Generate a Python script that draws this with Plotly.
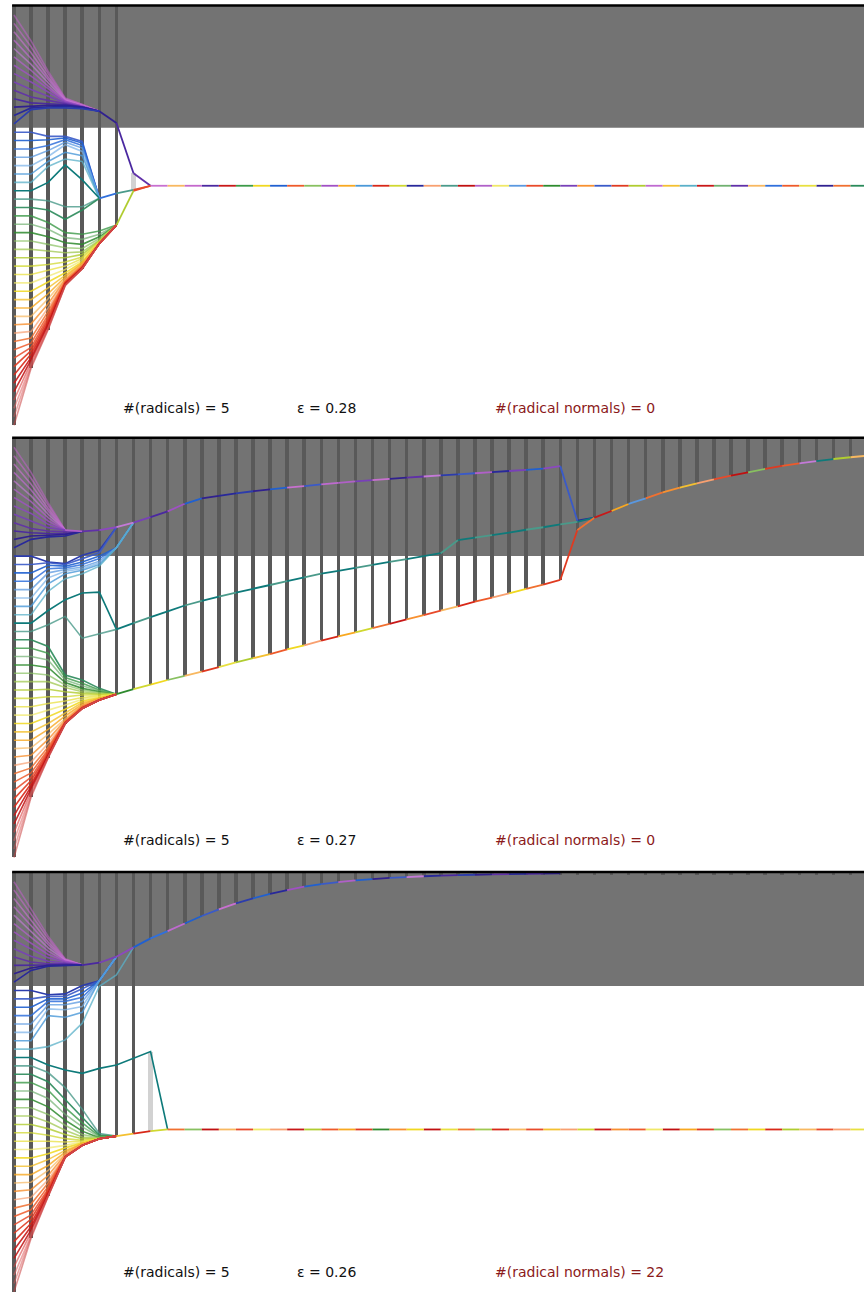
import plotly.graph_objects as go

# ---------------- colours of the 50 curves (top start -> bottom start) ----------------
curve_hex = ["#c060c8", "#c468cc", "#c870d0", "#bf6ad0", "#c47ad8", "#b060c8", "#a050c4", "#8c48c0",
             "#7840b8", "#6030a8", "#4a28a0", "#30208f", "#28289a", "#2c3cac", "#3a5ac8", "#2060d0",
             "#3070dc", "#5a98e0", "#78b0e8", "#4a98d8", "#5ab0c8", "#0e7a7a", "#4a9a8a", "#2a8a5a",
             "#3c9a48", "#70b070", "#2e8a2e", "#88c060", "#a0c850", "#b0cc30", "#d0d830", "#e8e040",
             "#f0e868", "#f0d820", "#f4c030", "#f8a820", "#f8b860", "#f89030", "#f8a070", "#f07030",
             "#ee5a2a", "#e84a2a", "#e03a20", "#d82818", "#c81818", "#c01010", "#d84040", "#e06060",
             "#d85050", "#c84040"]
curve_alpha = [0.55, 0.6, 0.65, 0.7, 0.65, 0.75, 0.8, 0.85, 0.9, 0.9, 0.95, 1, 1, 1, 0.9, 0.9,
               0.85, 0.75, 0.7, 0.8, 0.75, 1, 0.8, 0.9, 0.8, 0.7, 0.85, 0.7, 0.75, 0.8, 0.75, 0.75,
               0.7, 0.85, 0.8, 0.8, 0.7, 0.8, 0.7, 0.85, 0.85, 0.85, 0.9, 0.9, 0.9, 0.85, 0.6, 0.55,
               0.5, 0.55]

# ================= PANEL 1 (eps = 0.28) =================
p1_labels = ["#(radicals) = 5", "ε = 0.28", "#(radical normals) = 0"]
p1_band_bottom = 13.46
p1_prefix = [
    [0, 3.1, 6.7, 9.9, 10.7, 11.5], [1, 3.8, 7.0, 10.0, 10.7, 11.5], [2, 4.5, 7.4, 10.1, 10.8, 11.5],
    [3, 5.2, 7.7, 10.1, 10.8, 11.5], [4, 5.9, 8.1, 10.2, 10.8, 11.5], [5, 6.6, 8.5, 10.3, 10.9, 11.5],
    [6, 7.3, 8.8, 10.3, 10.9, 11.5], [7, 8.0, 9.2, 10.4, 10.9, 11.5], [8, 8.9, 9.7, 10.5, 11.0, 11.5],
    [9, 9.8, 10.2, 10.6, 11.0, 11.5], [10, 10.5, 10.6, 10.7, 11.0, 11.5], [11, 10.9, 10.8, 10.8, 11.0, 11.5],
    [12, 11.1, 11.0, 10.9, 11.1, 11.5], [13, 11.3, 11.1, 11.1, 11.2, 11.5],
    [14, 14.0, 14.5, 14.5, 15.1, 21.9], [15, 15.0, 14.9, 14.7, 15.3, 21.9], [16, 16.0, 15.6, 14.9, 15.6, 21.9],
    [17, 17.0, 16.2, 15.2, 15.9, 21.9], [18, 18.0, 16.9, 15.5, 16.3, 21.9], [19, 19.0, 17.5, 16.4, 16.8, 21.9],
    [20, 20.0, 18.1, 17.2, 17.5, 21.9], [21, 21.0, 20.0, 17.9, 19.7, 21.9], [22, 22.0, 22.2, 22.9, 22.9, 21.9],
    [23, 23.0, 23.3, 24.4, 23.3, 21.9],
    [24, 24.0, 24.8, 26.0, 26.2, 25.8, 25.1], [25, 25.0, 25.6, 26.6, 26.8, 26.2, 25.1],
    [26, 26.0, 26.5, 27.2, 27.4, 26.5, 25.1], [27, 27.0, 27.4, 27.8, 27.9, 26.7, 25.1],
    [28, 28.0, 28.2, 28.4, 28.3, 26.9, 25.1], [29, 29.0, 29.0, 29.0, 28.6, 27.0, 25.1],
    [30, 30.0, 29.8, 29.5, 28.9, 27.1, 25.1], [31, 31.0, 30.5, 30.0, 29.1, 27.1, 25.1],
    [32, 32.0, 31.2, 30.4, 29.3, 27.2, 25.1], [33, 33.0, 31.9, 30.8, 29.5, 27.2, 25.1],
    [34, 34.0, 32.6, 31.1, 29.6, 27.2, 25.1], [35, 35.0, 33.3, 31.3, 29.7, 27.2, 25.1],
    [36, 36.0, 33.9, 31.5, 29.8, 27.2, 25.1], [37, 36.9, 34.5, 31.6, 29.9, 27.3, 25.1],
    [38, 37.8, 35.0, 31.7, 30.0, 27.3, 25.1], [39, 38.6, 35.4, 31.8, 30.0, 27.3, 25.1],
    [40, 39.2, 35.8, 31.9, 30.1, 27.3, 25.1], [41, 39.7, 36.1, 32.0, 30.1, 27.3, 25.1],
    [42, 40.1, 36.4, 32.0, 30.2, 27.3, 25.1], [43, 40.5, 36.7, 32.1, 30.2, 27.3, 25.1],
    [44, 40.9, 36.9, 32.1, 30.2, 27.3, 25.1], [45, 41.2, 37.1, 32.2, 30.3, 27.3, 25.1],
    [46, 41.5, 37.3, 32.2, 30.3, 27.3, 25.1], [47, 41.8, 37.4, 32.3, 30.3, 27.3, 25.1],
    [48, 42.0, 37.5, 32.3, 30.3, 27.3, 25.1], [49, 42.2, 37.6, 32.3, 30.3, 27.3, 25.1],
]
p1_upper_start, p1_upper_vals, p1_upper_seg = 5, [11.5, 12.9, 18.9, 20.4], [11, 10, 9]
p1_mid_start, p1_mid_vals, p1_mid_seg = 5, [21.9, 21.3, 20.9, 20.4], [16, 22, 41]
p1_low_start, p1_low_vals, p1_low_seg = 6, [25.1, 21.0, 20.4], [29, 41]
p1_trunk_start = 8
p1_trunk_vals = [20.4, 20.4, 20.4, 20.4, 20.4, 20.4, 20.4, 20.4, 20.4, 20.4, 20.4, 20.4, 20.4, 20.4, 20.4,
                 20.4, 20.4, 20.4, 20.4, 20.4, 20.4, 20.4, 20.4, 20.4, 20.4, 20.4, 20.4, 20.4, 20.4, 20.4,
                 20.4, 20.4, 20.4, 20.4, 20.4, 20.4, 20.4, 20.4, 20.4, 20.4, 20.4, 20.4, 20.4]
p1_trunk_seg = [2, 36, 1, 10, 44, 24, 33, 15, 40, 27, 6, 35, 19, 43, 30, 12, 38, 22, 45, 5, 32,
                17, 41, 26, 8, 37, 14, 42, 29, 3, 34, 20, 44, 25, 9, 36, 16, 40, 31, 11, 39, 23]
p1_dark_low_cols = [0, 1, 2, 3, 4, 5, 6]
p1_dark_up_cols, p1_dark_up_bottom = [], []
p1_light_cols, p1_light_top, p1_light_bottom = [7], [18.9], [21.0]

# ================= PANEL 2 (eps = 0.27) =================
p2_labels = ["#(radicals) = 5", "ε = 0.27", "#(radical normals) = 0"]
p2_band_bottom = 12.99
p2_prefix = [
    [0, 3.0, 6.6, 9.9], [1, 3.7, 6.9, 9.9], [2, 4.4, 7.3, 9.9], [3, 5.1, 7.6, 9.9], [4, 5.8, 8.0, 9.9],
    [5, 6.5, 8.4, 9.9], [6, 7.2, 8.8, 9.9], [7, 7.9, 9.2, 9.9], [8, 8.8, 9.6, 9.9],
    [9, 9.7, 10.0, 10.1, 10.05], [10, 10.2, 10.3, 10.3, 10.05], [11, 10.6, 10.5, 10.4, 10.05],
    [12, 11.0, 10.7, 10.6, 10.05],
    [13, 13.0, 13.7, 13.9, 12.9, 12.3, 9.55], [14, 14.0, 13.8, 14.0, 13.3, 12.6, 9.55],
    [15, 15.0, 14.1, 14.2, 13.7, 13.0, 12.0, 9.0], [16, 16.0, 14.5, 14.4, 14.0, 13.3, 12.0, 9.0],
    [17, 17.0, 15.0, 14.6, 14.3, 13.6, 12.0, 9.0], [18, 18.0, 15.6, 14.8, 14.5, 13.8, 12.0, 9.0],
    [19, 19.0, 16.3, 15.1, 14.7, 14.0, 12.0, 9.0], [20, 20.0, 17.2, 15.7, 15.1, 14.2, 12.0, 9.0],
    [21, 21.0, 19.5, 18.2, 17.4, 17.3, 21.75], [22, 22.0, 21.2, 20.2, 22.8, 22.3, 21.75],
    [23, 23.0, 23.8, 27.2, 27.8, 28.8, 29.5], [24, 24.0, 24.6, 27.5, 28.2, 29.0, 29.5],
    [25, 25.0, 25.4, 27.8, 28.5, 29.1, 29.5], [26, 26.0, 26.3, 28.1, 28.8, 29.2, 29.5],
    [27, 27.0, 27.2, 28.4, 29.0, 29.3, 29.5], [28, 28.0, 28.0, 28.7, 29.2, 29.4, 29.5],
    [29, 29.0, 28.9, 29.2, 29.4, 29.5, 29.5], [30, 30.0, 29.8, 29.8, 29.6, 29.6, 29.5],
    [31, 31.0, 30.6, 30.3, 29.9, 29.7, 29.5], [32, 32.0, 31.4, 30.8, 30.1, 29.8, 29.5],
    [33, 33.0, 32.2, 31.3, 30.3, 29.9, 29.5], [34, 34.0, 33.0, 31.8, 30.5, 30.0, 29.5],
    [35, 35.0, 33.7, 32.1, 30.7, 30.0, 29.5], [36, 35.9, 34.3, 32.4, 30.8, 30.1, 29.5],
    [37, 36.8, 34.9, 32.6, 30.9, 30.1, 29.5], [38, 37.6, 35.4, 32.7, 31.0, 30.1, 29.5],
    [39, 38.3, 35.8, 32.8, 31.0, 30.2, 29.5], [40, 38.9, 36.1, 32.8, 31.1, 30.2, 29.5],
    [41, 39.4, 36.3, 32.9, 31.1, 30.2, 29.5], [42, 39.8, 36.5, 32.9, 31.1, 30.2, 29.5],
    [43, 40.2, 36.7, 32.9, 31.2, 30.2, 29.5], [44, 40.5, 36.8, 33.0, 31.2, 30.2, 29.5],
    [45, 40.8, 36.9, 33.0, 31.2, 30.2, 29.5], [46, 41.1, 37.0, 33.0, 31.2, 30.2, 29.5],
    [47, 41.4, 37.0, 33.0, 31.2, 30.2, 29.5], [48, 41.6, 37.1, 33.0, 31.2, 30.2, 29.5],
    [49, 41.8, 37.1, 33.0, 31.2, 30.2, 29.5],
]
p2_top_start = 3
p2_top_vals = [9.9, 10.05, 9.9, 9.55, 9.0, 8.35, 7.65, 6.75, 6.1, 5.8, 5.5, 5.25, 5.02, 4.82, 4.63, 4.43,
               4.24, 4.07, 3.91, 3.77, 3.63, 3.49, 3.35, 3.23, 3.1, 2.96, 2.83, 2.7, 2.55, 2.25, 8.77, 8.41]
p2_top_seg = [5, 9, 7, 4, 8, 10, 6, 15, 11, 12, 13, 11, 15, 2, 14, 3, 5, 8, 2, 11, 9, 4, 13, 14, 5, 12,
              8, 15, 7, 14, 12]
p2_teal_start = 6
p2_teal_vals = [21.75, 21.0, 20.3, 19.6, 18.9, 18.35, 17.85, 17.35, 16.9, 16.45, 16.0, 15.55, 15.1, 14.75,
                14.4, 14.05, 13.7, 13.35, 13.0, 12.65, 11.1, 10.8, 10.5, 10.2, 9.85, 9.55, 9.2, 8.9, 8.41]
p2_teal_seg = [21, 22, 21, 21, 22, 21, 22, 21, 21, 22, 21, 22, 21, 21, 22, 21, 22, 21, 21, 22, 21, 22,
               21, 21, 22, 21, 22, 21]
p2_red_start = 6
p2_red_vals = [29.5, 28.9, 28.35, 27.8, 27.3, 26.8, 26.25, 25.7, 25.2, 24.7, 24.15, 23.65, 23.1, 22.6,
               22.1, 21.6, 21.1, 20.55, 20.05, 19.5, 19.0, 18.45, 17.95, 17.45, 16.9, 16.4, 15.85, 9.88, 8.41]
p2_red_seg = [26, 30, 33, 27, 36, 42, 31, 29, 34, 40, 33, 38, 43, 35, 30, 39, 44, 37, 41, 36, 43, 40,
              38, 33, 39, 42, 42, 39]
p2_trunk_start = 34
p2_trunk_vals = [8.41, 7.61, 6.77, 6.09, 5.38, 4.83, 4.30, 3.82, 3.39, 2.99, 2.59, 2.23, 1.91, 1.64,
                 1.40, 1.19, 1.0]
p2_trunk_seg = [44, 35, 17, 39, 37, 34, 38, 41, 45, 27, 42, 40, 4, 21, 29, 36]
p2_dark_low_cols = list(range(0, 50))
p2_dark_up_cols, p2_dark_up_bottom = [], []
p2_light_cols, p2_light_top, p2_light_bottom = [], [], []

# ================= PANEL 3 (eps = 0.26) =================
p3_labels = ["#(radicals) = 5", "ε = 0.26", "#(radical normals) = 22"]
p3_band_bottom = 12.46
p3_prefix = [
    [0, 3.2, 6.5, 9.2, 9.96], [1, 3.9, 6.8, 9.3, 9.96], [2, 4.6, 7.2, 9.3, 9.96], [3, 5.3, 7.5, 9.4, 9.96],
    [4, 6.0, 7.9, 9.4, 9.96], [5, 6.7, 8.3, 9.5, 9.96], [6, 7.4, 8.7, 9.5, 9.96], [7, 8.1, 9.1, 9.6, 9.96],
    [8, 8.9, 9.5, 9.7, 9.96], [9, 9.6, 9.8, 9.8, 9.96], [10, 10.0, 9.95, 9.9, 9.96],
    [11, 10.3, 10.0, 9.95, 9.96], [12, 10.6, 10.1, 10.0, 9.96],
    [13, 13.0, 13.5, 13.4, 12.4, 11.83, 8.96], [14, 14.0, 13.7, 13.7, 12.8, 11.83, 8.96],
    [15, 15.0, 14.0, 14.0, 13.3, 11.83, 8.96], [16, 16.0, 14.3, 14.3, 13.8, 11.83, 8.96],
    [17, 17.0, 14.7, 14.7, 14.3, 11.83, 8.96], [18, 18.0, 15.2, 15.3, 14.9, 11.83, 8.96],
    [19, 19.0, 16.0, 16.2, 15.6, 11.83, 8.96],
    [20, 20.0, 19.7, 18.9, 16.9, 12.5, 11.15, 7.85],
    [21, 21.0, 21.9, 22.5, 22.9, 22.3, 21.9, 21.1, 20.3, 29.6],
    [22, 22.0, 22.8, 24.6, 27.2, 30.1, 30.4], [23, 23.0, 23.9, 26.0, 28.1, 30.3, 30.4],
    [24, 24.0, 24.9, 27.0, 28.8, 30.4, 30.4], [25, 25.0, 25.9, 27.8, 29.3, 30.5, 30.4],
    [26, 26.0, 26.9, 28.5, 29.8, 30.6, 30.4], [27, 27.0, 27.8, 29.1, 30.2, 30.6, 30.4],
    [28, 28.0, 28.7, 29.7, 30.5, 30.7, 30.4], [29, 29.0, 29.5, 30.2, 30.7, 30.7, 30.4],
    [30, 30.0, 30.3, 30.7, 30.9, 30.7, 30.4], [31, 31.0, 31.0, 31.1, 31.0, 30.7, 30.4],
    [32, 32.0, 31.8, 31.5, 31.1, 30.7, 30.4], [33, 33.0, 32.5, 31.8, 31.2, 30.7, 30.4],
    [34, 34.0, 33.2, 32.1, 31.3, 30.7, 30.4], [35, 35.0, 33.9, 32.3, 31.3, 30.7, 30.4],
    [36, 35.9, 34.5, 32.5, 31.4, 30.7, 30.4], [37, 36.8, 35.1, 32.6, 31.4, 30.7, 30.4],
    [38, 37.7, 35.6, 32.7, 31.4, 30.7, 30.4], [39, 38.5, 36.0, 32.8, 31.5, 30.7, 30.4],
    [40, 39.2, 36.4, 32.8, 31.5, 30.7, 30.4], [41, 39.8, 36.7, 32.8, 31.5, 30.7, 30.4],
    [42, 40.3, 36.9, 32.9, 31.5, 30.7, 30.4], [43, 40.8, 37.1, 32.9, 31.5, 30.7, 30.4],
    [44, 41.2, 37.3, 32.9, 31.5, 30.7, 30.4], [45, 41.6, 37.4, 32.9, 31.5, 30.7, 30.4],
    [46, 41.9, 37.5, 32.9, 31.5, 30.7, 30.4], [47, 42.2, 37.5, 32.9, 31.5, 30.7, 30.4],
    [48, 42.4, 37.6, 32.9, 31.5, 30.7, 30.4], [49, 42.6, 37.6, 32.9, 31.5, 30.7, 30.4],
]
p3_top_start = 4
p3_top_vals = [9.96, 9.68, 8.96, 7.85, 6.77, 5.9, 5.0, 4.1, 3.3, 2.6, 2.0, 1.45, 1.0, 0.6, 0.3, 0.05,
               -0.15, -0.3, -0.45, -0.55, -0.65, -0.72, -0.78, -0.83, -0.87, -0.9, -0.93, -0.96, -1.0]
p3_top_seg = [10, 8, 7, 15, 16, 3, 15, 14, 2, 13, 15, 12, 6, 15, 14, 5, 15, 11, 14, 4, 12, 10, 13, 11,
              9, 12, 10, 11]
p3_low_start = 6
p3_low_vals = [30.4, 30.1, 29.8, 29.6, 29.6, 29.6, 29.6, 29.6, 29.6, 29.6, 29.6, 29.6, 29.6, 29.6, 29.6,
               29.6, 29.6, 29.6, 29.6, 29.6, 29.6, 29.6, 29.6, 29.6, 29.6, 29.6, 29.6, 29.6, 29.6, 29.6,
               29.6, 29.6, 29.6, 29.6, 29.6, 29.6, 29.6, 29.6, 29.6, 29.6, 29.6, 29.6, 29.6, 29.6, 29.6]
p3_low_seg = [34, 43, 30, 39, 27, 45, 36, 41, 32, 38, 44, 29, 40, 35, 42, 26, 37, 33, 45, 31, 39, 28,
              43, 36, 41, 34, 38, 30, 44, 37, 40, 32, 45, 35, 42, 27, 39, 33, 43, 29, 36, 41, 38, 31]
p3_dark_low_cols = [0, 1, 2, 3, 4, 5, 6, 7]
p3_dark_up_cols = list(range(8, 50))
p3_dark_up_bottom = [6.77, 5.9, 5.0, 4.1, 3.3, 2.6, 2.0, 1.45, 1.0, 0.6, 0.3, 0.05, -0.15, -0.3, -0.45,
                     -0.55, -0.65, -0.72, -0.78, -0.8, -0.8, -0.8, -0.8, -0.8, -0.8, -0.8, -0.8, -0.8,
                     -0.8, -0.8, -0.8, -0.8, -0.8, -0.8, -0.8, -0.8, -0.8, -0.8, -0.8, -0.8, -0.8, -0.8]
p3_light_cols, p3_light_top, p3_light_bottom = [8], [20.3], [29.8]

# ---------------- layout constants ----------------
W, H = 864, 1296
TOP_V = -1.15                       # v-position of the black top rule
PANEL_TOP_PX = [3.0, 435.3, 869.7]  # pixel of v=-1.434 in each panel
PANEL_SPAN_PX = 426.0
Y_RANGE = [49.46, -1.434]
X_RANGE = [-0.82, 49.79]
LABEL_X_PX = [121, 295, 493]
LABEL_Y_PX = [408, 840, 1272]


def rgba(i, a=None):
    h = curve_hex[i].lstrip("#")
    r, g, b = int(h[0:2], 16), int(h[2:4], 16), int(h[4:6], 16)
    al = curve_alpha[i] if a is None else a
    return f"rgba({r},{g},{b},{al})"


fig = go.Figure()


def add_panel(n, labels, band_bottom, prefix, branches, dark_low_cols, dark_up_cols, dark_up_bottom,
              light_cols, light_top, light_bottom):
    xa = "x" if n == 1 else f"x{n}"
    ya = "y" if n == 1 else f"y{n}"
    colvals = {}
    for row in prefix:
        for k, v in enumerate(row):
            colvals.setdefault(k, []).append(v)
    for start, vals, seg in branches:
        for j, v in enumerate(vals):
            colvals.setdefault(start + j, []).append(v)

    fig.add_shape(type="rect", xref=xa, yref=ya, x0=-0.11, x1=51, y0=TOP_V, y1=band_bottom,
                  fillcolor="#737373", line_width=0, layer="below")

    bx = list(dark_low_cols) + list(dark_up_cols)
    bb = [max(colvals[k]) for k in dark_low_cols] + list(dark_up_bottom)
    fig.add_trace(go.Bar(x=bx, y=[b - TOP_V for b in bb], base=[TOP_V] * len(bx), width=0.21,
                         marker=dict(color="#595959", line=dict(width=0)), xaxis=xa, yaxis=ya,
                         hoverinfo="skip", showlegend=False))
    if light_cols:
        fig.add_trace(go.Bar(x=light_cols, y=[b - t for t, b in zip(light_top, light_bottom)],
                             base=light_top, width=0.25,
                             marker=dict(color="#d2d2d2", line=dict(width=0)), xaxis=xa, yaxis=ya,
                             hoverinfo="skip", showlegend=False))

    for i, row in enumerate(prefix):
        fig.add_trace(go.Scatter(x=list(range(len(row))), y=row, mode="lines",
                                 line=dict(color=rgba(i), width=1.6), xaxis=xa, yaxis=ya,
                                 hoverinfo="skip", showlegend=False))

    groups = {}
    for start, vals, seg in branches:
        for j, ci in enumerate(seg):
            gx, gy = groups.setdefault(ci, ([], []))
            gx += [start + j, start + j + 1, None]
            gy += [vals[j], vals[j + 1], None]
    for ci, (gx, gy) in groups.items():
        fig.add_trace(go.Scatter(x=gx, y=gy, mode="lines", line=dict(color=rgba(ci, 1.0), width=1.8),
                                 xaxis=xa, yaxis=ya, hoverinfo="skip", showlegend=False))

    fig.add_shape(type="line", xref=xa, yref=ya, x0=-0.11, x1=51, y0=TOP_V, y1=TOP_V,
                  line=dict(color="#000000", width=2.5), layer="above")

    top = PANEL_TOP_PX[n - 1]
    dom = [1 - (top + PANEL_SPAN_PX) / H, 1 - top / H]
    fig.layout[("xaxis" if n == 1 else f"xaxis{n}")] = dict(domain=[0, 1], range=X_RANGE, visible=False,
                                                            anchor=ya, fixedrange=True)
    fig.layout[("yaxis" if n == 1 else f"yaxis{n}")] = dict(domain=dom, range=Y_RANGE, visible=False,
                                                            anchor=xa, fixedrange=True)
    for j, txt in enumerate(labels):
        fig.add_annotation(text=txt, xref="paper", yref="paper", x=LABEL_X_PX[j] / W,
                           y=1 - LABEL_Y_PX[n - 1] / H, xanchor="left", yanchor="middle",
                           showarrow=False,
                           font=dict(family="DejaVu Sans", size=14,
                                     color="#8b1a1a" if j == 2 else "#111111"))


add_panel(1, p1_labels, p1_band_bottom, p1_prefix,
          [(p1_upper_start, p1_upper_vals, p1_upper_seg), (p1_mid_start, p1_mid_vals, p1_mid_seg),
           (p1_low_start, p1_low_vals, p1_low_seg), (p1_trunk_start, p1_trunk_vals, p1_trunk_seg)],
          p1_dark_low_cols, p1_dark_up_cols, p1_dark_up_bottom, p1_light_cols, p1_light_top, p1_light_bottom)
add_panel(2, p2_labels, p2_band_bottom, p2_prefix,
          [(p2_top_start, p2_top_vals, p2_top_seg), (p2_teal_start, p2_teal_vals, p2_teal_seg),
           (p2_red_start, p2_red_vals, p2_red_seg), (p2_trunk_start, p2_trunk_vals, p2_trunk_seg)],
          p2_dark_low_cols, p2_dark_up_cols, p2_dark_up_bottom, p2_light_cols, p2_light_top, p2_light_bottom)
add_panel(3, p3_labels, p3_band_bottom, p3_prefix,
          [(p3_top_start, p3_top_vals, p3_top_seg), (p3_low_start, p3_low_vals, p3_low_seg)],
          p3_dark_low_cols, p3_dark_up_cols, p3_dark_up_bottom, p3_light_cols, p3_light_top, p3_light_bottom)

fig.update_layout(width=W, height=H, margin=dict(l=0, r=0, t=0, b=0), paper_bgcolor="white",
                  plot_bgcolor="rgba(0,0,0,0)", barmode="overlay", showlegend=False, bargap=0)
fig.write_html("out.html", config={"displayModeBar": False, "staticPlot": True},
               post_script="document.body.style.margin='0';")
